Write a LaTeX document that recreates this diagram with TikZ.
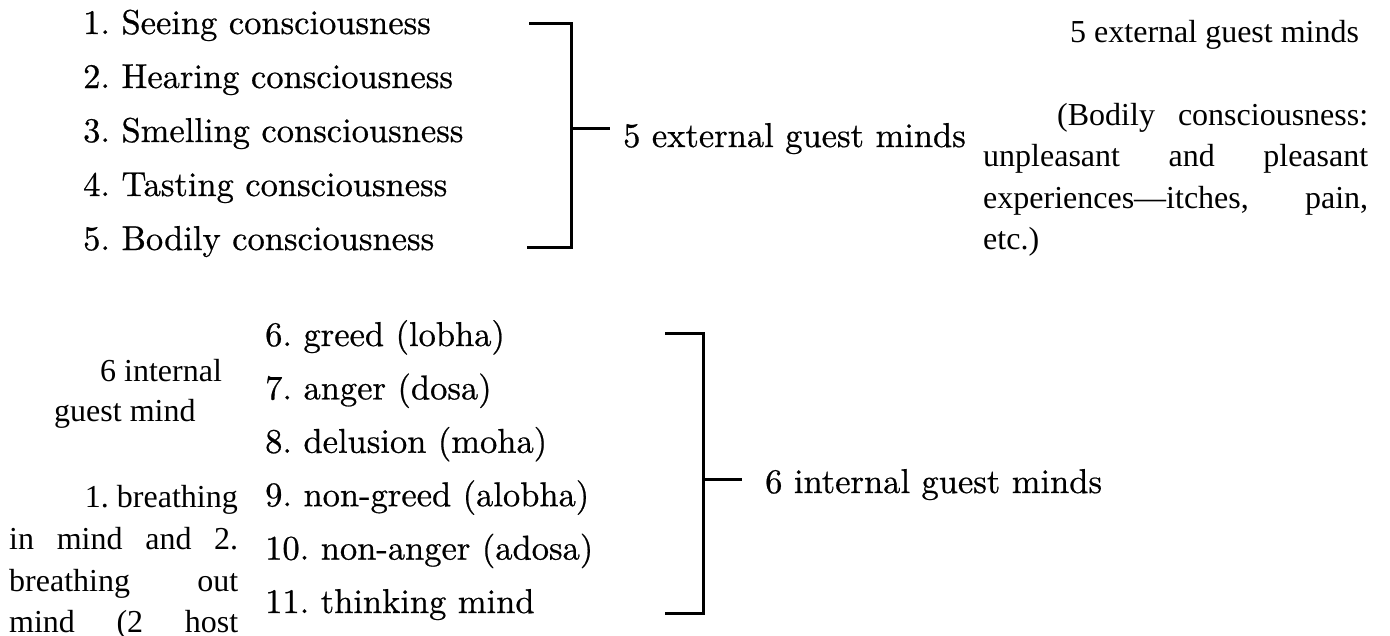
\documentclass[tikz,border=0pt]{standalone}
\usepackage{fontspec}
\newfontfamily\tnr[Extension=.ttf]{LiberationSerif-Regular}
\newfontfamily\cam[Extension=.otf,FakeBold=0.6]{lmroman10-regular}
\frenchspacing
\tikzset{
  item/.style={anchor=base west, inner sep=0pt, font=\cam\fontsize{34.5}{40}\selectfont},
  note/.style={anchor=base west, inner sep=0pt, font=\tnr\fontsize{32}{40}\selectfont},
  brk/.style={line width=3pt, black},
}
\begin{document}
\begin{tikzpicture}[x=1pt,y=-1pt]
\useasboundingbox (0,0) rectangle (1390,635);
\clip (0,0) rectangle (1390,635);
\fill[white] (0,0) rectangle (1390,635);
% upper list
\node[item] (s1) at (83,34) {1. Seeing consciousness};
\node[item] (s2) at (83,88) {2. Hearing consciousness};
\node[item] (s3) at (83,142) {3. Smelling consciousness};
\node[item] (s4) at (83,196) {4. Tasting consciousness};
\node[item] (s5) at (83,250) {5. Bodily consciousness};
% bracket 1
\coordinate (b1a) at (529,23);
\coordinate (b1b) at (571,23);
\coordinate (b1c) at (571,247);
\coordinate (b1d) at (527,247);
\coordinate (b1m) at (571,128);
\coordinate (b1e) at (610,128);
\draw[brk] (b1a) -- (b1b) -- (b1c) -- (b1d);
\draw[brk] (b1m) -- (b1e);
\node[item] (ext) at (623,147) {5 external guest minds};
% right notes
\node[note] (extnote) at (1070,42) {5 external guest minds};
\node[note] (bn1) at (1057,125) {\makebox[311pt][s]{(Bodily consciousness:}};
\node[note] (bn2) at (983,166.5) {\makebox[385pt][s]{unpleasant and pleasant}};
\node[note] (bn3) at (983,208) {\makebox[385pt][s]{experiences—itches, pain,}};
\node[note] (bn4) at (983,249.5) {etc.)};
% lower list
\node[item] (g6) at (265,346) {6. greed (lobha)};
\node[item] (g7) at (265,399.4) {7. anger (dosa)};
\node[item] (g8) at (265,452.8) {8. delusion (moha)};
\node[item] (g9) at (265,506.2) {9. non-greed (alobha)};
\node[item] (g10) at (265,559.6) {10. non-anger (adosa)};
\node[item] (g11) at (265,613) {11. thinking mind};
% bracket 2
\coordinate (b2a) at (665,333);
\coordinate (b2b) at (703,333);
\coordinate (b2c) at (703,613);
\coordinate (b2d) at (665,613);
\coordinate (b2m) at (703,479);
\coordinate (b2e) at (742,479);
\draw[brk] (b2a) -- (b2b) -- (b2c) -- (b2d);
\draw[brk] (b2m) -- (b2e);
\node[item] (int) at (765,493) {6 internal guest minds};
% left notes
\node[note] (in1) at (100,381) {6 internal};
\node[note] (in2) at (54,421) {guest mind};
\node[note, anchor=base east] (br1) at (238,507) {1. breathing};
\node[note] (br2) at (9,549) {\makebox[229pt][s]{in mind and 2.}};
\node[note] (br3) at (9,591) {\makebox[229pt][s]{breathing out}};
\node[note] (br4) at (9,632) {\makebox[229pt][s]{mind (2 host}};
\end{tikzpicture}
\end{document}
